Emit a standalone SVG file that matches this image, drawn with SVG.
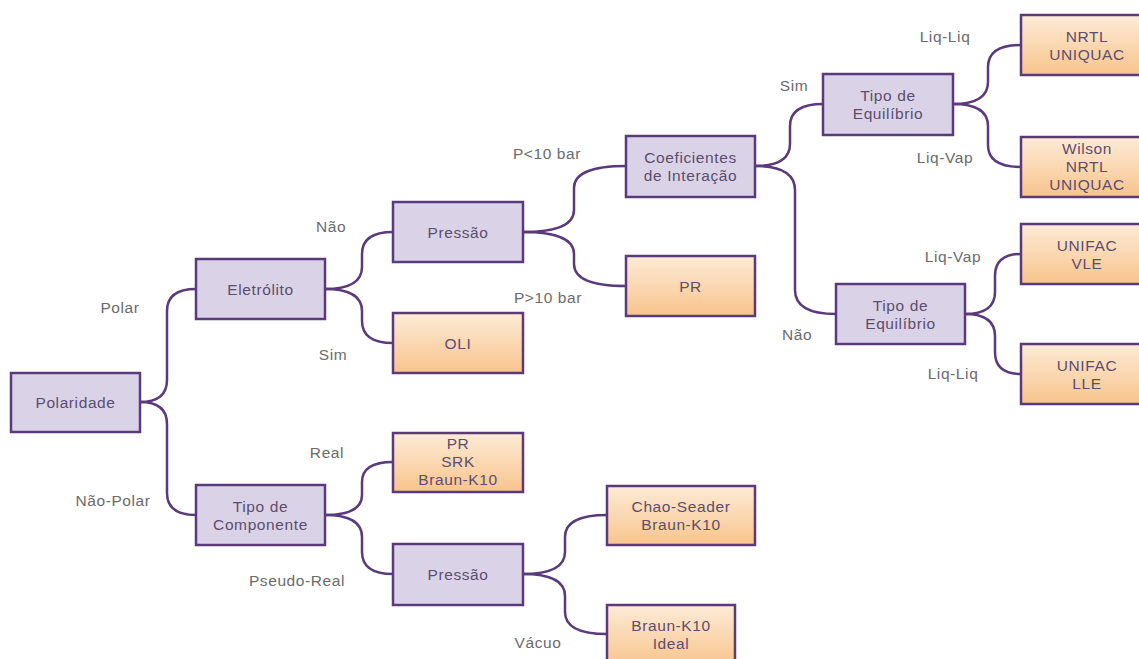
<svg xmlns="http://www.w3.org/2000/svg" width="1139" height="659" viewBox="0 0 1139 659">
<defs>
<linearGradient id="og" x1="0" y1="0" x2="0" y2="1">
<stop offset="0" stop-color="#fdebd7"/>
<stop offset="1" stop-color="#f8c48c"/>
</linearGradient>
<style>
.p{fill:#dad3e7;stroke:#5b3a7c;stroke-width:2.5}
.o{fill:url(#og);stroke:#5b3a7c;stroke-width:2.5}
.t{font-family:"Liberation Sans",Arial,sans-serif;font-size:15.5px;letter-spacing:0.6px;fill:#5d4d6e;text-anchor:middle}
.l{font-family:"Liberation Sans",Arial,sans-serif;font-size:15.5px;letter-spacing:0.6px;fill:#6b6b6b;text-anchor:middle}
.c{fill:none;stroke:#5b3a7c;stroke-width:2.5}
</style>
</defs>
<rect width="1139" height="659" fill="#ffffff"/>
<g id="connectors">
<path class="c" d="M140,402 Q167,402 167,380 L167,311 Q167,289 196,289"/>
<path class="c" d="M140,402 Q167,402 167,424 L167,493 Q167,515 196,515"/>
<path class="c" d="M325,289 Q362,289 362,267 L362,254 Q362,232 393,232"/>
<path class="c" d="M325,289 Q362,289 362,311 L362,321 Q362,343 393,343"/>
<path class="c" d="M523,232 Q574,232 574,210 L574,188 Q574,166 626,166"/>
<path class="c" d="M523,232 Q574,232 574,254 L574,264 Q574,286 626,286"/>
<path class="c" d="M755,166 Q790,166 790,144 L790,126 Q790,104 823,104"/>
<path class="c" d="M755,166 Q795,166 795,190 L795,290 Q795,314 836,314"/>
<path class="c" d="M953,104 Q988,104 988,82 L988,67 Q988,45 1021,45"/>
<path class="c" d="M953,104 Q988,104 988,126 L988,145 Q988,167 1021,167"/>
<path class="c" d="M965,314 Q995,314 995,292 L995,276 Q995,254 1021,254"/>
<path class="c" d="M965,314 Q995,314 995,336 L995,352 Q995,374 1021,374"/>
<path class="c" d="M325,515 Q362,515 362,495 L362,482 Q362,462 393,462"/>
<path class="c" d="M325,515 Q362,515 362,537 L362,552 Q362,574 393,574"/>
<path class="c" d="M523,574 Q565,574 565,552 L565,537 Q565,515 607,515"/>
<path class="c" d="M523,574 Q565,574 565,596 L565,612 Q565,634 607,634"/>
</g>
<g id="labels">
<text class="l" x="120" y="313">Polar</text>
<text class="l" x="113" y="506">Não-Polar</text>
<text class="l" x="331" y="232">Não</text>
<text class="l" x="333" y="360">Sim</text>
<text class="l" x="327" y="458">Real</text>
<text class="l" x="297" y="586">Pseudo-Real</text>
<text class="l" x="547" y="159">P&lt;10 bar</text>
<text class="l" x="548" y="303">P&gt;10 bar</text>
<text class="l" x="794" y="91">Sim</text>
<text class="l" x="797" y="340">Não</text>
<text class="l" x="945" y="42">Liq-Liq</text>
<text class="l" x="945" y="163">Liq-Vap</text>
<text class="l" x="953" y="262">Liq-Vap</text>
<text class="l" x="953" y="379">Liq-Liq</text>
<text class="l" x="538" y="648">Vácuo</text>
</g>
<g id="n-polaridade"><rect class="p" x="11" y="373" width="129" height="59"/><text class="t" x="75.5" y="408">Polaridade</text></g>
<g id="n-eletrolito"><rect class="p" x="196" y="259" width="129" height="60"/><text class="t" x="260.5" y="295">Eletrólito</text></g>
<g id="n-pressao1"><rect class="p" x="393" y="202" width="130" height="60"/><text class="t" x="458" y="238">Pressão</text></g>
<g id="n-oli"><rect class="o" x="393" y="313" width="130" height="60"/><text class="t" x="458" y="349">OLI</text></g>
<g id="n-coef"><rect class="p" x="626" y="136" width="129" height="61"/><text class="t" x="690.5" y="163">Coeficientes</text><text class="t" x="690.5" y="181">de Interação</text></g>
<g id="n-pr1"><rect class="o" x="626" y="256" width="129" height="60"/><text class="t" x="690.5" y="292">PR</text></g>
<g id="n-tipoeq1"><rect class="p" x="823" y="74" width="130" height="61"/><text class="t" x="888" y="101">Tipo de</text><text class="t" x="888" y="119">Equilíbrio</text></g>
<g id="n-nrtl1"><rect class="o" x="1021" y="15" width="132" height="60"/><text class="t" x="1087" y="42">NRTL</text><text class="t" x="1087" y="60">UNIQUAC</text></g>
<g id="n-wilson"><rect class="o" x="1021" y="137" width="132" height="60"/><text class="t" x="1087" y="154">Wilson</text><text class="t" x="1087" y="172">NRTL</text><text class="t" x="1087" y="190">UNIQUAC</text></g>
<g id="n-tipoeq2"><rect class="p" x="836" y="284" width="129" height="60"/><text class="t" x="900.5" y="311">Tipo de</text><text class="t" x="900.5" y="329">Equilíbrio</text></g>
<g id="n-vle"><rect class="o" x="1021" y="224" width="132" height="60"/><text class="t" x="1087" y="251">UNIFAC</text><text class="t" x="1087" y="269">VLE</text></g>
<g id="n-lle"><rect class="o" x="1021" y="344" width="132" height="60"/><text class="t" x="1087" y="371">UNIFAC</text><text class="t" x="1087" y="389">LLE</text></g>
<g id="n-tipocomp"><rect class="p" x="196" y="485" width="129" height="60"/><text class="t" x="260.5" y="512">Tipo de</text><text class="t" x="260.5" y="530">Componente</text></g>
<g id="n-prsrk"><rect class="o" x="393" y="433" width="130" height="59"/><text class="t" x="458" y="449">PR</text><text class="t" x="458" y="467">SRK</text><text class="t" x="458" y="485">Braun-K10</text></g>
<g id="n-pressao2"><rect class="p" x="393" y="544" width="130" height="61"/><text class="t" x="458" y="580">Pressão</text></g>
<g id="n-chao"><rect class="o" x="607" y="486" width="148" height="59"/><text class="t" x="681" y="512">Chao-Seader</text><text class="t" x="681" y="530">Braun-K10</text></g>
<g id="n-braun"><rect class="o" x="607" y="605" width="128" height="62"/><text class="t" x="671" y="631">Braun-K10</text><text class="t" x="671" y="649">Ideal</text></g>
</svg>
